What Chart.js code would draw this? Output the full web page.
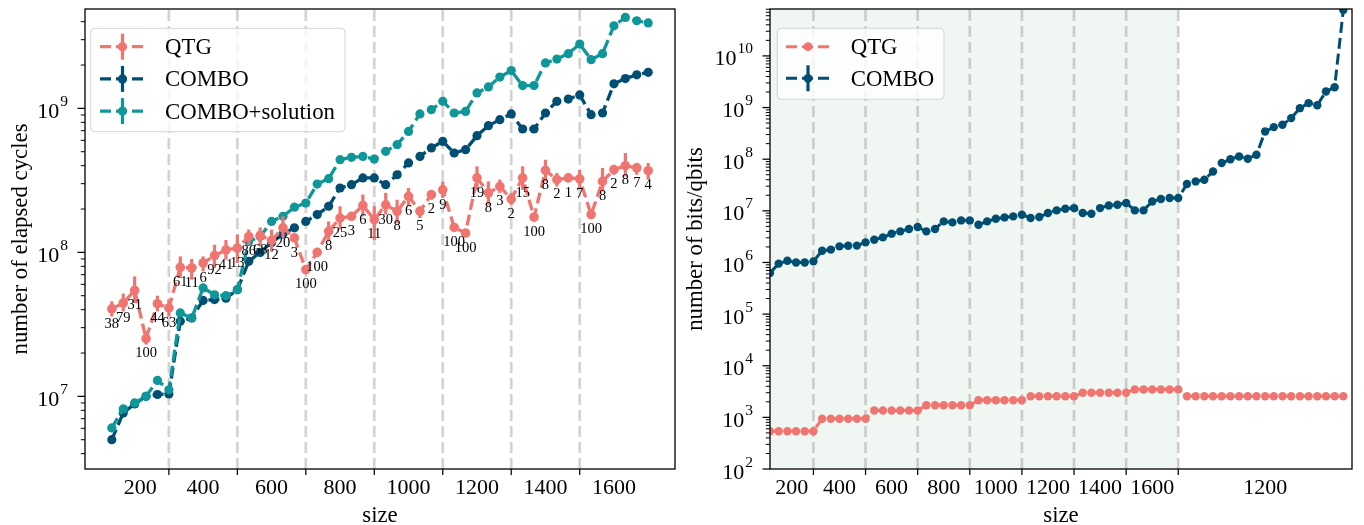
<!DOCTYPE html>
<html><head><meta charset="utf-8">
<script src="https://cdn.jsdelivr.net/npm/chart.js@4.4.1/dist/chart.umd.min.js"></script>
<style>
html,body{margin:0;padding:0;background:#fff;}
#wrap{position:relative;width:1364px;height:525px;overflow:hidden;}
canvas{position:absolute;top:0;}
</style></head><body>
<div id="wrap">
<canvas id="cl" width="680" height="525" style="left:0px"></canvas>
<canvas id="cr" width="684" height="525" style="left:680px"></canvas>
</div>
<script>
// ---------------- left panel: number of elapsed cycles ----------------
const sizeLabels   = ['200','400','600','800','1000','1200','1400','1600'];
const sizeLabelPos = [2.5, 8, 14, 20, 26, 32, 38, 44];
const groupEnds    = [5, 11, 17, 23, 29, 35, 41];

const qtgCycles = [4.05e7,4.45e7,5.45e7,2.52e7,4.40e7,4.11e7, 7.87e7,7.79e7,8.44e7,9.49e7,1.04e8,1.07e8,
  1.29e8,1.31e8,1.21e8,1.48e8,1.26e8,7.59e7, 1.00e8,1.40e8,1.73e8,1.78e8,2.12e8,1.69e8,
  2.14e8,1.93e8,2.45e8,1.93e8,2.52e8,2.72e8, 1.49e8,1.36e8,3.29e8,2.59e8,2.87e8,2.35e8,
  3.29e8,1.76e8,3.71e8,3.20e8,3.29e8,3.24e8, 1.83e8,3.11e8,3.75e8,4.00e8,3.86e8,3.69e8];
const qtgLow = [3.59e7,3.89e7,4.45e7,2.29e7,3.89e7,3.59e7, 6.64e7,6.46e7,7.38e7,7.79e7,8.90e7,8.44e7,
  1.13e8,1.10e8,1.01e8,1.26e8,1.18e8,7.20e7, 9.50e7,1.19e8,1.44e8,1.70e8,1.78e8,1.22e8,
  1.83e8,1.60e8,2.09e8,1.73e8,2.32e8,2.39e8, 1.42e8,1.30e8,2.72e8,2.14e8,2.59e8,2.14e8,
  2.72e8,1.68e8,3.11e8,2.87e8,3.14e8,2.80e8, 1.75e8,2.65e8,3.46e8,3.37e8,3.46e8,3.20e8];
const qtgHigh = [4.57e7,5.17e7,6.81e7,2.83e7,5.00e7,4.70e7, 9.38e7,9.00e7,9.38e7,1.13e8,1.22e8,1.33e8,
  1.44e8,1.49e8,1.44e8,1.78e8,1.34e8,8.00e7, 1.05e8,1.64e8,2.09e8,1.86e8,2.52e8,2.09e8,
  2.59e8,2.32e8,2.80e8,2.09e8,2.65e8,3.11e8, 1.56e8,1.42e8,3.96e8,3.11e8,3.20e8,2.59e8,
  3.96e8,1.84e8,4.40e8,3.56e8,3.44e8,3.75e8, 1.91e8,3.86e8,4.06e8,4.90e8,4.18e8,4.18e8];
const qtgNotes = ['38','79','31','100','44','63', '61','11','6','92','41','13',
  '86','68','12','20','3','100', '100','8','25','3','6','11',
  '30','8','6','5','2','9', '100','100','19','8','3','2',
  '15','100','8','2','1','7', '100','8','2','8','7','4'];
const comboCycles = [5.0e6,7.67e6,8.86e6,1.0e7,1.03e7,1.04e7, 3.32e7,3.50e7,4.64e7,4.70e7,4.80e7,5.51e7,
  8.66e7,1.00e8,1.17e8,1.34e8,1.48e8,1.64e8, 1.83e8,2.09e8,2.80e8,2.95e8,3.29e8,3.29e8,
  2.95e8,3.46e8,4.18e8,4.64e8,5.31e8,5.90e8, 4.90e8,5.17e8,6.46e8,7.58e8,8.35e8,9.15e8,
  7.19e8,7.19e8,9.29e8,1.12e9,1.16e9,1.24e9, 9.04e8,9.29e8,1.48e9,1.61e9,1.71e9,1.78e9];
const comboSolCycles = [6.04e6,8.18e6,9.0e6,1.0e7,1.29e7,1.11e7, 3.80e7,3.50e7,5.66e7,5.08e7,5.00e7,5.51e7,
  1.19e8,1.29e8,1.64e8,1.78e8,2.06e8,2.20e8, 2.98e8,3.25e8,4.40e8,4.57e8,4.64e8,4.45e8,
  5.03e8,5.60e8,6.92e8,9.15e8,9.79e8,1.12e9, 9.29e8,9.53e8,1.28e9,1.41e9,1.65e9,1.83e9,
  1.44e9,1.44e9,2.07e9,2.20e9,2.40e9,2.80e9, 2.18e9,2.40e9,3.75e9,4.28e9,4.06e9,3.92e9];

// ---------------- right panel: number of bits/qbits ----------------
const bitsLabels   = ['200','400','600','800','1000','1200','1400','1600','1200'];
const bitsLabelPos = [2.5, 8, 14, 20, 26, 32, 38, 44, 57];
const bitsGroupEnds = [5, 11, 17, 23, 29, 35, 41, 47];
const qtgBits = [540,540,540,540,540,540, 940,940,940,940,940,940, 1360,1360,1360,1360,1360,1360,
  1720,1720,1720,1720,1720,1720, 2150,2150,2150,2150,2150,2150, 2570,2570,2570,2570,2570,2570,
  2990,2990,2990,2990,2990,2990, 3470,3470,3470,3470,3470,3470,
  2570,2570,2570,2570,2570,2570,2570,2570,2570,2570,2570,2570,2570,2570,2570,2570,2570,2570,2570];
const comboBits = [6.27e5,9.48e5,1.08e6,1.0e6,1.0e6,1.05e6, 1.69e6,1.77e6,2.05e6,2.11e6,2.12e6,2.45e6,
  2.76e6,3.06e6,3.61e6,4.0e6,4.45e6,4.86e6, 4.0e6,4.45e6,6.24e6,5.97e6,6.52e6,6.52e6,
  5.38e6,6.24e6,7.03e6,7.45e6,7.80e6,8.41e6, 7.26e6,7.59e6,9.06e6,1.02e7,1.10e7,1.13e7,
  9.06e6,8.79e6,1.13e7,1.27e7,1.31e7,1.42e7, 1.02e7,1.02e7,1.52e7,1.69e7,1.77e7,1.77e7,
  3.30e7,3.71e7,4.0e7,5.78e7,8.41e7,1.0e8,1.13e8,1.02e8,1.22e8,3.43e8,4.18e8,4.63e8,6.24e8,
  9.73e8,1.22e9,1.11e9,2.04e9,2.48e9,7.76e10];

// ---------------- styling ----------------
const FONT = '"Liberation Serif","Times New Roman",serif';
const C_QTG = '#f07570', C_COMBO = '#004f73', C_SOL = '#0f9698';
const GRIDC = 'rgba(150,150,150,0.42)';
const SHADE = '#f0f6f2';

function pts(arr){ return arr.map((v,i)=>({x:i,y:v})); }
function lineDs(label, values, color, order, width, radius){
  return {label, data:pts(values), borderColor:color, backgroundColor:color,
    pointBackgroundColor:color, pointBorderColor:color, pointBorderWidth:0,
    pointRadius:radius, pointHoverRadius:radius, borderWidth:width,
    borderDash:[11,5], tension:0, fill:false, order};
}
function roundRect(ctx,x,y,w,h,r){
  ctx.beginPath(); ctx.moveTo(x+r,y); ctx.lineTo(x+w-r,y); ctx.quadraticCurveTo(x+w,y,x+w,y+r);
  ctx.lineTo(x+w,y+h-r); ctx.quadraticCurveTo(x+w,y+h,x+w-r,y+h); ctx.lineTo(x+r,y+h);
  ctx.quadraticCurveTo(x,y+h,x,y+h-r); ctx.lineTo(x,y+r); ctx.quadraticCurveTo(x,y,x+r,y); ctx.closePath();
}

function makeDecor(cfg){
  return {
    id:'decor'+cfg.name,
    beforeDatasetsDraw(chart){
      const {ctx, chartArea:a, scales:{x}} = chart;
      ctx.save();
      if (cfg.shadeTo != null){
        ctx.fillStyle = SHADE;
        ctx.fillRect(a.left, a.top, x.getPixelForValue(cfg.shadeTo)-a.left, a.bottom-a.top);
      }
      ctx.strokeStyle = GRIDC; ctx.lineWidth = 2.7; ctx.setLineDash([11,5]);
      cfg.bounds.forEach(b=>{
        const px = x.getPixelForValue(b);
        ctx.beginPath(); ctx.moveTo(px, a.bottom); ctx.lineTo(px, a.top); ctx.stroke();
      });
      ctx.restore();
    },
    beforeDatasetDraw(chart, args){
      if (!cfg.err || args.index !== 0) return;
      const {ctx, chartArea:a, scales:{x,y}} = chart;
      ctx.save();
      ctx.beginPath(); ctx.rect(a.left,a.top,a.right-a.left,a.bottom-a.top); ctx.clip();
      ctx.strokeStyle = cfg.err.color; ctx.lineWidth = 3.2;
      cfg.err.low.forEach((lo,i)=>{
        const px = x.getPixelForValue(i);
        ctx.beginPath(); ctx.moveTo(px, y.getPixelForValue(lo)); ctx.lineTo(px, y.getPixelForValue(cfg.err.high[i])); ctx.stroke();
      });
      ctx.restore();
    },
    afterDatasetsDraw(chart){
      if (!cfg.notes) return;
      const {ctx, scales:{x,y}} = chart;
      ctx.save();
      ctx.fillStyle = '#000'; ctx.font = '14.5px '+FONT; ctx.textAlign='center'; ctx.textBaseline='alphabetic';
      cfg.notes.forEach((t,i)=>{
        ctx.fillText(t, x.getPixelForValue(i), y.getPixelForValue(cfg.noteVals[i]*0.8)+4.8);
      });
      ctx.restore();
    },
    afterDraw(chart){
      const {ctx, chartArea:a, scales:{x,y}} = chart;
      ctx.save();
      // frame
      ctx.strokeStyle='#000'; ctx.lineWidth=1.3; ctx.setLineDash([]);
      ctx.strokeRect(a.left, a.top, a.right-a.left, a.bottom-a.top);
      // y ticks (log)
      const lo = Math.floor(Math.log10(y.min)), hi = Math.ceil(Math.log10(y.max));
      for (let e=lo; e<=hi; e++){
        for (let m=1; m<=9; m++){
          const v = m*Math.pow(10,e);
          if (v < y.min*0.999 || v > y.max*1.001) continue;
          const py = y.getPixelForValue(v);
          ctx.lineWidth = m===1?1.25:1;
          ctx.beginPath(); ctx.moveTo(a.left, py); ctx.lineTo(a.left-(m===1?7.5:4.2), py); ctx.stroke();
          if (m===1){
            const sup = String(e);
            ctx.font = '22px '+FONT; const wb = ctx.measureText('10').width;
            ctx.font = '15.5px '+FONT; const ws = ctx.measureText(sup).width;
            const xr = a.left-17, x0 = xr-ws-wb-1;
            ctx.fillStyle='#000'; ctx.textAlign='left'; ctx.textBaseline='alphabetic';
            ctx.font = '22px '+FONT; ctx.fillText('10', x0, py+9.5);
            ctx.font = '15.5px '+FONT; ctx.fillText(sup, x0+wb+1, py-2.5);
          }
        }
      }
      // x ticks at group boundaries
      ctx.lineWidth=1.25;
      cfg.bounds.forEach(b=>{
        const px = x.getPixelForValue(b);
        ctx.beginPath(); ctx.moveTo(px, a.bottom); ctx.lineTo(px, a.bottom+6); ctx.stroke();
      });
      ctx.fillStyle='#000'; ctx.font='22px '+FONT; ctx.textAlign='center'; ctx.textBaseline='alphabetic';
      cfg.labels.forEach((t,k)=> ctx.fillText(t, x.getPixelForValue(cfg.labelPos[k]), 493.5));
      // axis titles
      ctx.font='22.8px '+FONT;
      ctx.fillText('size', (a.left+a.right)/2, 522);
      ctx.save();
      ctx.translate(cfg.ytitleX, (a.top+a.bottom)/2); ctx.rotate(-Math.PI/2);
      ctx.textBaseline='middle'; ctx.fillText(cfg.ytitle, 0, 0);
      ctx.restore();
      // legend
      const L = cfg.legend;
      roundRect(ctx, L.x, L.y, L.w, L.h, 4);
      ctx.fillStyle='rgba(255,255,255,0.8)'; ctx.fill();
      ctx.strokeStyle='#d4d4d4'; ctx.lineWidth=1; ctx.stroke();
      L.items.forEach((it,k)=>{
        const cy = L.row0 + k*L.rowH, cx = (L.hx0+L.hx1)/2;
        ctx.strokeStyle=it.color; ctx.lineWidth=L.lw; ctx.setLineDash([11,5]);
        ctx.beginPath(); ctx.moveTo(L.hx0, cy); ctx.lineTo(L.hx1, cy); ctx.stroke();
        ctx.setLineDash([]);
        if (it.err){ ctx.lineWidth=3.2; ctx.beginPath(); ctx.moveTo(cx, cy-13); ctx.lineTo(cx, cy+13); ctx.stroke(); }
        ctx.fillStyle=it.color; ctx.beginPath(); ctx.arc(cx, cy, L.r, 0, Math.PI*2); ctx.fill();
        ctx.fillStyle='#000'; ctx.font='22.8px '+FONT; ctx.textAlign='left'; ctx.textBaseline='alphabetic';
        ctx.fillText(it.text, L.tx, cy+7.4);
      });
      ctx.restore();
    }
  };
}

Chart.defaults.font.family = FONT;

function baseOptions(pad, xmin, xmax, ymin, ymax){
  return {
    responsive:false, animation:false, devicePixelRatio:1,
    layout:{padding:pad},
    plugins:{legend:{display:false}, tooltip:{enabled:false}},
    events:[],
    scales:{
      x:{type:'linear', display:false, min:xmin, max:xmax, bounds:'data'},
      y:{type:'logarithmic', display:false, min:ymin, max:ymax, bounds:'data'}
    }
  };
}

new Chart(document.getElementById('cl'), {
  type:'line',
  data:{datasets:[
    lineDs('QTG', qtgCycles, C_QTG, 0, 3.3, 4.8),
    lineDs('COMBO+solution', comboSolCycles, C_SOL, 1, 3.3, 4.6),
    lineDs('COMBO', comboCycles, C_COMBO, 2, 3.3, 4.6)
  ]},
  options: baseOptions({left:85, right:5, top:9, bottom:56}, -2.35, 49.35, 3.13e6, 4.9e9),
  plugins:[makeDecor({
    name:'L', bounds:groupEnds, labels:sizeLabels, labelPos:sizeLabelPos, shadeTo:null,
    ytitle:'number of elapsed cycles', ytitleX:21,
    err:{low:qtgLow, high:qtgHigh, color:C_QTG}, notes:qtgNotes, noteVals:qtgCycles,
    legend:{x:90.7, y:28.3, w:254.3, h:103.4, row0:46.7, rowH:32.2, hx0:100, hx1:145, tx:165, lw:3.3, r:4.6,
      items:[{text:'QTG', color:C_QTG, err:true},{text:'COMBO', color:C_COMBO, err:true},{text:'COMBO+solution', color:C_SOL, err:true}]}
  })]
});

new Chart(document.getElementById('cr'), {
  type:'line',
  data:{datasets:[
    lineDs('QTG', qtgBits, C_QTG, 1, 3, 4.2),
    lineDs('COMBO', comboBits, C_COMBO, 0, 3, 4.2)
  ]},
  options: baseOptions({left:90, right:12, top:9, bottom:56}, 0, 67, 100, 8.1e10),
  plugins:[makeDecor({
    name:'R', bounds:bitsGroupEnds, labels:bitsLabels, labelPos:bitsLabelPos, shadeTo:47,
    ytitle:'number of bits/qbits', ytitleX:16,
    err:null, notes:null,
    legend:{x:97.3, y:28.3, w:166.7, h:71, row0:46.7, rowH:31.6, hx0:106, hx1:150, tx:170.7, lw:3, r:4.4,
      items:[{text:'QTG', color:C_QTG, err:false},{text:'COMBO', color:C_COMBO, err:true}]}
  })]
});
</script>
</body></html>
